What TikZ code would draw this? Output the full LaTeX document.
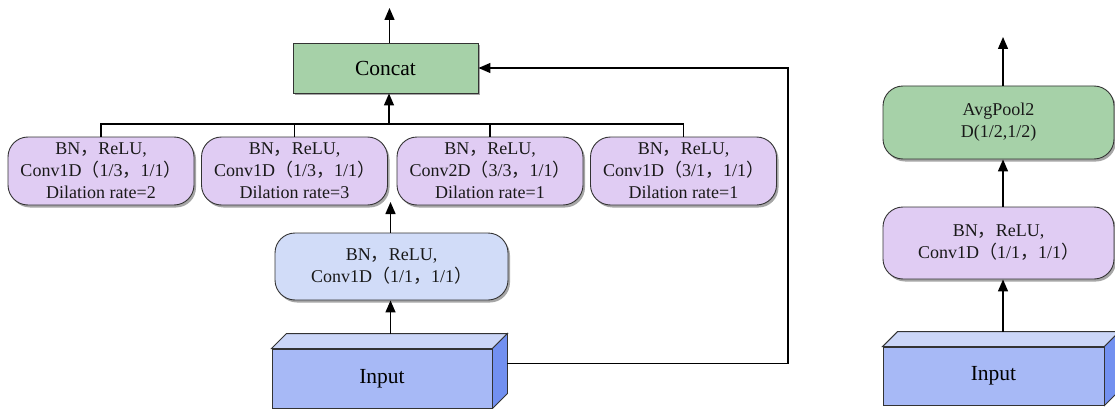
\documentclass[tikz,border=0pt]{standalone}
\usepackage{fontspec}
\setmainfont{Liberation Serif}
\newfontfamily\cjk{Noto Sans CJK SC}
\usetikzlibrary{arrows.meta,shadows,calc}
\newcommand{\fc}{{\cjk ，}}
\newcommand{\flp}{{\cjk （}}
\newcommand{\frp}{{\cjk ）}}
\definecolor{cgreen}{HTML}{A6D1A8}
\definecolor{cpurple}{HTML}{E0CCF3}
\definecolor{clblue}{HTML}{D1DCF8}
\definecolor{cfront}{HTML}{A7B9F6}
\definecolor{ctop}{HTML}{CBD6F8}
\definecolor{cside}{HTML}{7290F0}
\definecolor{cedge}{HTML}{333333}
\tikzset{
  boxshadow/.style={drop shadow={shadow xshift=2pt,shadow yshift=-2.5pt,fill=black,opacity=0.35}},
  smalltext/.style={font=\fontsize{18}{22}\selectfont,align=center,text=black!90},
  bigtext/.style={font=\fontsize{21.5}{25}\selectfont,text=black},
  rbox/.style={draw=cedge,line width=0.9pt,rounded corners=20pt,boxshadow,smalltext,inner sep=0pt},
  purplebox/.style={rbox,fill=cpurple,minimum width=186pt,minimum height=68pt},
  concatbox/.style={draw=cedge,line width=0.9pt,fill=cgreen,boxshadow,bigtext,minimum width=185pt,minimum height=50pt,inner sep=0pt},
  frontface/.style={draw=cedge,line width=0.9pt,fill=cfront,bigtext,inner sep=0pt},
  topface/.style={draw=cedge,line width=0.9pt,fill=ctop},
  sideface/.style={draw=cedge,line width=0.9pt,fill=cside},
  conn/.style={draw=black,line width=1.4pt},
  arr/.style={conn,-{Triangle[length=12pt,width=10pt]}}
}
\begin{document}
\begin{tikzpicture}[x=1pt,y=-1pt]
\useasboundingbox (0,0) rectangle (1115,409);
% left diagram
\node[concatbox] (concat) at (385.5,68) {Concat};
\node[purplebox] (b1) at (101,171) {BN\fc ReLU,\\Conv1D\flp 1/3\fc 1/1\frp\\Dilation rate=2};
\node[purplebox] (b2) at (294.5,171) {BN\fc ReLU,\\Conv1D\flp 1/3\fc 1/1\frp\\Dilation rate=3};
\node[purplebox] (b3) at (490,171) {BN\fc ReLU,\\Conv2D\flp 3/3\fc 1/1\frp\\Dilation rate=1};
\node[purplebox] (b4) at (683.5,171) {BN\fc ReLU,\\Conv1D\flp 3/1\fc 1/1\frp\\Dilation rate=1};
\node[rbox,fill=clblue,minimum width=233pt,minimum height=67pt] (low) at (391.5,266.5) {BN\fc ReLU,\\Conv1D\flp 1/1\fc 1/1\frp};
\node[frontface,minimum width=220pt,minimum height=59pt] (in1) at (382,378.5) {Input};
\draw[topface] (in1.north west) -- ++(15,-15) -- ($(in1.north east)+(15,-15)$) -- (in1.north east) -- cycle;
\draw[sideface] (in1.north east) -- ++(15,-15) -- ($(in1.south east)+(15,-15)$) -- (in1.south east) -- cycle;
\coordinate (out1) at (389.5,8);
\coordinate (bus) at (389,124);
\coordinate (gap) at (390.5,202);
\coordinate (loop) at (788,68);
\draw[arr] (concat.north -| out1) -- (out1);
\draw[conn] (b1.north) -- (b1.north |- bus) -- (b4.north |- bus) -- (b4.north);
\draw[conn] (b2.north) -- (b2.north |- bus);
\draw[conn] (b3.north) -- (b3.north |- bus);
\draw[arr] (bus) -- (concat.south -| bus);
\draw[arr] (low.north -| gap) -- (gap);
\draw[arr] ($(in1.north -| gap)+(0,-15)$) -- (low.south -| gap);
\draw[arr] ($(in1.east)+(15,-15)$) -| (loop) -- (concat.east);
% right diagram
\node[rbox,fill=cgreen,minimum width=231pt,minimum height=73pt] (avg) at (998.5,122.5) {AvgPool2\\D(1/2,1/2)};
\node[rbox,fill=cpurple,minimum width=231pt,minimum height=72pt] (bn2) at (998.5,243) {BN\fc ReLU,\\Conv1D\flp 1/1\fc 1/1\frp};
\node[frontface,minimum width=221pt,minimum height=58pt] (in2) at (993.5,376) {Input};
\draw[topface] (in2.north west) -- ++(15,-15) -- ($(in2.north east)+(15,-15)$) -- (in2.north east) -- cycle;
\draw[sideface] (in2.north east) -- ++(15,-15) -- ($(in2.south east)+(15,-15)$) -- (in2.south east) -- cycle;
\coordinate (out2) at (1003,37);
\draw[arr] (avg.north -| out2) -- (out2);
\draw[arr] (bn2.north -| out2) -- (avg.south -| out2);
\draw[arr] ($(in2.north -| out2)+(0,-15)$) -- (bn2.south -| out2);
\end{tikzpicture}
\end{document}
